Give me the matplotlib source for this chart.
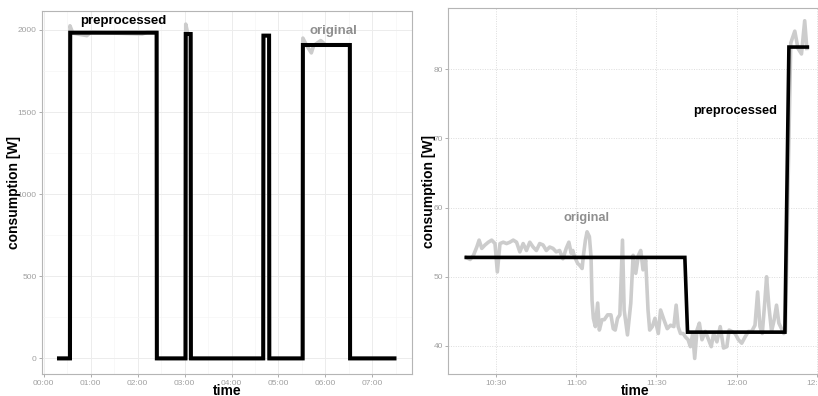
import matplotlib
matplotlib.use("Agg")
import matplotlib.pyplot as plt
import matplotlib.dates as mdates
from matplotlib.ticker import MultipleLocator
import pandas as pd
import numpy as np

plt.rcParams['font.family'] = ['Liberation Sans', 'DejaVu Sans']

# ---------------- data: left panel (hours after midnight) ----------------
left_orig_h = [0.326, 0.55, 0.56, 0.62, 0.92, 1.0, 2.1, 2.2, 2.405, 2.41, 3.02, 3.025,
               3.07, 3.13, 3.135, 4.675, 4.68, 4.795, 4.80, 5.515, 5.52, 5.6, 5.7,
               5.75, 5.85, 5.9, 6.0, 6.52, 6.525, 7.47]
left_orig_w = [0, 0, 2025, 1980, 1965, 1985, 1975, 1985, 1985, 0, 0, 2035,
               1975, 1975, 0, 0, 1965, 1965, 0, 0, 1950, 1905, 1860,
               1905, 1925, 1935, 1910, 1910, 0, 0]

left_prep_h = [0.326, 0.56, 0.565, 2.405, 2.41, 3.02, 3.025, 3.13, 3.135, 4.675,
               4.68, 4.80, 4.805, 5.515, 5.52, 6.52, 6.525, 7.47]
left_prep_w = [0, 0, 1983, 1983, 0, 0, 1975, 1975, 0, 0,
               1965, 1965, 0, 0, 1908, 1908, 0, 0]

# ---------------- data: right panel (minutes after 10:00) ----------------
right_orig_min = [18.86, 20.34, 21.58, 22.82, 23.69, 24.68, 25.91, 27.15, 28.39, 29.63,
                  30.50, 31.49, 32.72, 33.96, 35.20, 36.44, 37.68, 38.91, 40.15, 41.39,
                  42.63, 43.87, 45.10, 46.34, 47.58, 48.82, 50.06, 51.30, 52.53, 53.77,
                  55.01, 56.25, 57.24, 58.10, 58.72, 59.34, 59.96, 60.58, 61.20, 62.19,
                  62.69, 63.43, 64.05, 64.91, 65.53, 65.90, 66.40, 67.14, 68.01, 68.63,
                  69.62, 70.48, 71.72, 72.96, 73.83, 74.57, 75.44, 76.30, 77.29, 77.91,
                  79.15, 80.39, 81.26, 82.25, 83.24, 84.10, 84.97, 85.96, 86.83, 87.45,
                  88.44, 89.43, 90.67, 91.53, 92.77, 94.01, 95.25, 96.49, 97.35, 98.10,
                  98.96, 99.95, 100.82, 101.81, 102.67, 103.54, 104.28, 105.15, 106.02, 107.01,
                  108.25, 109.48, 110.47, 111.34, 112.58, 113.82, 115.06, 116.29, 117.16, 118.15,
                  119.39, 120.63, 121.87, 123.10, 124.34, 125.58, 126.82, 127.81, 128.67, 129.54,
                  130.53, 131.15, 132.02, 133.01, 134.00, 134.87, 135.74, 136.73, 137.59, 138.21,
                  139.0, 140.2, 141.7, 142.9, 144.2, 145.4, 146.2]
right_orig_w = [52.8, 52.5, 53.1, 54.3, 55.3, 54.1, 54.6, 55.0, 55.3, 54.8,
                50.7, 54.8, 55.0, 54.8, 55.0, 55.3, 55.0, 53.6, 54.8, 53.8,
                55.0, 54.3, 53.8, 54.8, 54.6, 53.8, 54.3, 54.1, 53.6, 53.8,
                52.6, 54.1, 55.0, 53.4, 53.8, 52.9, 52.4, 51.9, 51.7, 51.2,
                53.1, 55.3, 56.5, 55.8, 52.9, 46.6, 44.0, 42.8, 46.2, 42.3,
                43.8, 43.8, 44.5, 44.5, 42.5, 42.3, 44.0, 44.5, 55.3, 45.2,
                41.6, 46.2, 53.1, 50.5, 53.1, 53.8, 51.0, 52.4, 45.2, 42.3,
                42.8, 44.0, 41.8, 45.2, 43.8, 42.5, 43.0, 42.8, 45.9, 42.8,
                41.8, 41.8, 41.3, 40.9, 39.9, 41.8, 38.2, 42.3, 43.3, 40.9,
                42.1, 40.9, 39.9, 41.8, 40.6, 42.8, 39.7, 39.9, 42.3, 42.1,
                41.8, 40.9, 40.4, 41.3, 42.1, 42.1, 43.0, 47.8, 42.8, 41.8,
                46.6, 50.0, 45.7, 42.1, 43.8, 45.9, 43.3, 42.5, 41.8, 42.1,
                60.0, 83.8, 85.5, 83.0, 82.2, 87.0, 83.0]

right_prep_min = [18.9, 100.6, 101.6, 138.0, 139.5, 146.4]
right_prep_w = [52.8, 52.8, 42.0, 42.0, 83.2, 83.2]

base = pd.Timestamp("2000-01-01")
def hours_to_dt(h):
    return [base + pd.Timedelta(hours=v) for v in h]
def min10_to_dt(m):
    return [base + pd.Timedelta(hours=10) + pd.Timedelta(minutes=v) for v in m]

W, H = 818, 396
fig = plt.figure(figsize=(W / 100, H / 100), dpi=100)
fig.patch.set_facecolor("white")

def px_axes(l, t, r, b):
    return fig.add_axes([l / W, (H - b) / H, (r - l) / W, (b - t) / H])

axL = px_axes(42, 11, 412.3, 374)
axR = px_axes(448.3, 8.3, 822, 374)

gray_line = "#cccccc"
tick_col = "#a0a0a0"
border_col = "#b5b5b5"

for ax in (axL, axR):
    ax.set_facecolor("white")
    for s in ax.spines.values():
        s.set_color(border_col)
        s.set_linewidth(0.8)
    ax.tick_params(axis="both", colors=tick_col, labelsize=6, length=2.5, width=0.6,
                   pad=1.5, labelcolor=tick_col)
    ax.set_axisbelow(True)

# Left panel
axL.plot(hours_to_dt(left_orig_h), left_orig_w, color=gray_line, lw=2.6, solid_joinstyle="round")
axL.plot(hours_to_dt(left_prep_h), left_prep_w, color="black", lw=2.9, solid_joinstyle="miter")
axL.set_xlim(base + pd.Timedelta(hours=-0.036), base + pd.Timedelta(hours=7.85))
axL.set_ylim(-95, 2115)
axL.xaxis.set_major_locator(mdates.HourLocator())
axL.xaxis.set_minor_locator(mdates.MinuteLocator(byminute=[30]))
axL.xaxis.set_major_formatter(mdates.DateFormatter("%H:%M"))
axL.yaxis.set_major_locator(MultipleLocator(500))
axL.yaxis.set_minor_locator(MultipleLocator(250))
axL.tick_params(which="minor", length=0)
axL.grid(True, which="major", color="#ececec", lw=0.7)
axL.grid(True, which="minor", color="#f5f5f5", lw=0.5)
axL.text(base + pd.Timedelta(hours=1.696), 2054, "preprocessed", fontsize=9.5,
         fontweight="bold", color="black", ha="center", va="center")
axL.text(base + pd.Timedelta(hours=6.17), 1995, "original", fontsize=9.5,
         fontweight="bold", color="#8f8f8f", ha="center", va="center")
axL.set_ylabel("consumption [W]", fontsize=10, fontweight="bold")
axL.yaxis.set_label_coords(-0.057, 0.5)
axL.set_xlabel("time", fontsize=10, fontweight="bold", labelpad=-1.5)

# Right panel
axR.plot(min10_to_dt(right_orig_min), right_orig_w, color=gray_line, lw=2.6, solid_joinstyle="round")
axR.plot(min10_to_dt(right_prep_min), right_prep_w, color="black", lw=2.6, solid_joinstyle="miter")
axR.set_xlim(base + pd.Timedelta(hours=10, minutes=12.17), base + pd.Timedelta(hours=10, minutes=151.87))
axR.set_ylim(35.95, 88.8)
axR.xaxis.set_major_locator(mdates.MinuteLocator(byminute=[0, 30]))
axR.xaxis.set_major_formatter(mdates.DateFormatter("%H:%M"))
axR.yaxis.set_major_locator(MultipleLocator(10))
axR.grid(True, which="major", color="#dcdcdc", lw=0.7, ls=(0, (1, 1.5)))
axR.text(base + pd.Timedelta(hours=10, minutes=119.5), 73.9, "preprocessed", fontsize=9.2,
         fontweight="bold", color="black", ha="center", va="center")
axR.text(base + pd.Timedelta(hours=10, minutes=63.9), 58.45, "original", fontsize=9.2,
         fontweight="bold", color="#8f8f8f", ha="center", va="center")
axR.set_ylabel("consumption [W]", fontsize=10, fontweight="bold")
axR.yaxis.set_label_coords(-0.033, 0.5)
axR.set_xlabel("time", fontsize=10, fontweight="bold", labelpad=-1.5)

fig.savefig("out.png", dpi=100, facecolor="white")
